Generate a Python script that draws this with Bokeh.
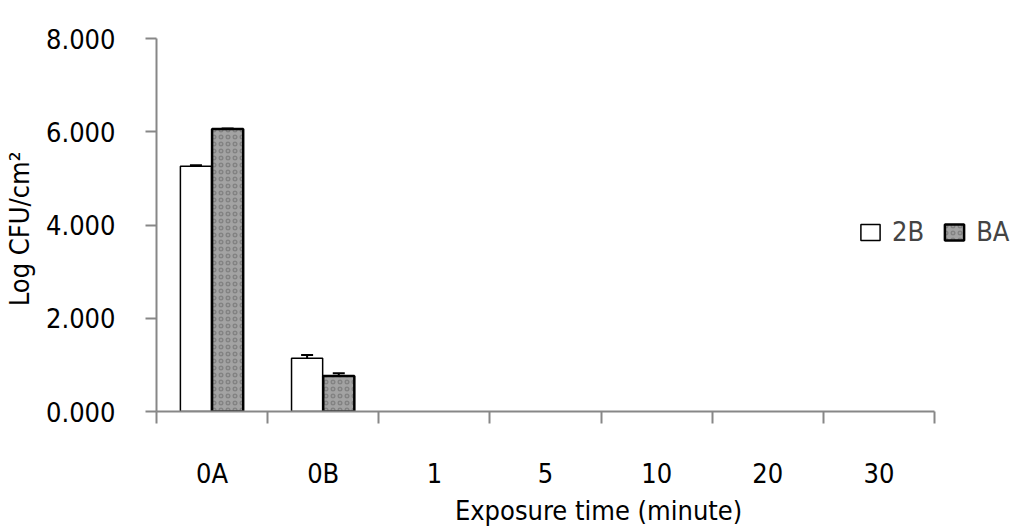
from bokeh.plotting import figure
from bokeh.models import (Range1d, LinearAxis, FixedTicker, NumeralTickFormatter,
                          ColumnDataSource, Whisker, TeeHead, Legend, LegendItem)
from bokeh.embed import file_html
from bokeh.resources import INLINE

# ---- data ----
categories = ["0A", "0B", "1", "5", "10", "20", "30"]
series_2b = [5.26, 1.14, 0, 0, 0, 0, 0]
err_2b = [0.02, 0.07, 0, 0, 0, 0, 0]
series_ba = [6.06, 0.76, 0, 0, 0, 0, 0]
err_ba = [0.01, 0.06, 0, 0, 0, 0, 0]
y_ticks = [0, 2, 4, 6, 8]

FONT = "DejaVu Sans Condensed"
FS = "27px"
AX = "#878787"
N = len(categories)
X_END = N * 861 / 778  # frame extends past the axis so the legend fits

def build(vals, errs, offset):
    xs, tops, ups, los = [], [], [], []
    for i, (v, e) in enumerate(zip(vals, errs)):
        if v > 0:
            xs.append(i + 0.5 + offset)
            tops.append(v)
            ups.append(v + e)
            los.append(v - e)
    return ColumnDataSource(dict(x=xs, top=tops, upper=ups, lower=los))

src_2b = build(series_2b, err_2b, -0.145)
src_ba = build(series_ba, err_ba, 0.14)

p = figure(frame_width=861, frame_height=373,
           min_border_left=149, min_border_top=38, min_border_right=0, min_border_bottom=104,
           x_range=Range1d(0, X_END), y_range=Range1d(0, 8),
           output_backend="svg", toolbar_location=None,
           x_axis_location=None, y_axis_location=None)
p.grid.visible = False
p.outline_line_color = None
p.background_fill_color = "white"
p.border_fill_color = "white"

r2b = p.vbar(x="x", top="top", width=0.28, source=src_2b, fill_color="white",
             line_color="black", line_width=1.5)
rba = p.vbar(x="x", top="top", width=0.28, source=src_ba, fill_color="#a3a3a3",
             line_color="black", line_width=2.5,
             hatch_pattern="ring", hatch_color="#6e6e6e", hatch_scale=7, hatch_alpha=0.6,
             hatch_weight=1.5)

for src in (src_2b, src_ba):
    w = Whisker(base="x", upper="upper", lower="lower", source=src,
                line_color="black", line_width=2,
                upper_head=TeeHead(size=12, line_width=2, line_color="black"),
                lower_head=TeeHead(size=12, line_width=2, line_color="black"))
    p.add_layout(w)

# y axis
yax = LinearAxis(ticker=FixedTicker(ticks=y_ticks),
                 formatter=NumeralTickFormatter(format="0.000"),
                 axis_label="Log  CFU/cm²")
yax.axis_line_color = AX
yax.axis_line_width = 2
yax.major_tick_line_color = AX
yax.major_tick_line_width = 2
yax.major_tick_in = 0
yax.major_tick_out = 11
yax.minor_tick_line_color = None
yax.major_label_standoff = 30
yax.major_label_text_font = FONT
yax.major_label_text_font_size = FS
yax.major_label_text_color = "black"
yax.axis_label_text_font = FONT
yax.axis_label_text_font_size = FS
yax.axis_label_text_font_style = "normal"
yax.axis_label_text_color = "black"
yax.axis_label_standoff = 8
p.add_layout(yax, "left")

# x axis: ticks at category boundaries
xax_ticks = LinearAxis(ticker=FixedTicker(ticks=list(range(N + 1))), bounds=(0, N))
xax_ticks.axis_line_color = AX
xax_ticks.axis_line_width = 2
xax_ticks.major_tick_line_color = AX
xax_ticks.major_tick_line_width = 2
xax_ticks.major_tick_in = 0
xax_ticks.major_tick_out = 12
xax_ticks.minor_tick_line_color = None
xax_ticks.major_label_text_font_size = "1px"
xax_ticks.major_label_text_alpha = 0
xax_ticks.major_label_standoff = 0
p.add_layout(xax_ticks, "below")

# x axis: category labels at centers
centers = [i + 0.5 for i in range(N)]
xax = LinearAxis(ticker=FixedTicker(ticks=centers), bounds=(0, N),
                 axis_label="\u00a0\u00a0\u00a0Exposure time (minute)")
xax.major_label_overrides = {c: lab for c, lab in zip(centers, categories)}
xax.axis_line_color = None
xax.major_tick_line_color = None
xax.minor_tick_line_color = None
xax.major_tick_in = 0
xax.major_tick_out = 0
xax.major_label_standoff = 34
xax.major_label_text_font = FONT
xax.major_label_text_font_size = FS
xax.major_label_text_color = "black"
xax.axis_label_text_font = FONT
xax.axis_label_text_font_size = FS
xax.axis_label_text_font_style = "normal"
xax.axis_label_text_color = "black"
xax.axis_label_standoff = 3
p.add_layout(xax, "below")

legend = Legend(items=[LegendItem(label="2B", renderers=[r2b]),
                       LegendItem(label="BA", renderers=[rba])],
                orientation="horizontal", location=(702, 164),
                label_text_font=FONT, label_text_font_size=FS,
                label_standoff=10, spacing=18, glyph_width=24, glyph_height=20,
                padding=0, margin=0, border_line_color=None,
                background_fill_alpha=0)
p.add_layout(legend, "center")

open("out.html", "w").write(file_html(p, INLINE))
